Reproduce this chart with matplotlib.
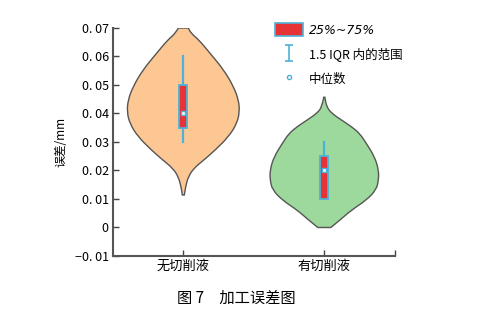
import matplotlib
matplotlib.use('Agg')
import matplotlib.pyplot as plt
from matplotlib.patches import Patch, PathPatch
from matplotlib.lines import Line2D
from matplotlib.path import Path

plt.rcParams['font.family'] = ['Noto Sans CJK SC', 'DejaVu Sans']

# categories
groups = ['无切削液', '有切削液']
positions = [1, 2]

# violin outlines: error level (mm) and half width (x units)
levels_1 = [0.0114, 0.0143, 0.0178, 0.0208, 0.0237, 0.0272, 0.0319, 0.0365,
            0.0406, 0.0447, 0.0494, 0.0553, 0.0611, 0.0658, 0.0681, 0.0700]
widths_1 = [0.007, 0.016, 0.035, 0.075, 0.146, 0.227, 0.322, 0.380,
            0.399, 0.392, 0.357, 0.287, 0.190, 0.111, 0.056, 0.035]
levels_2 = [0.0000, 0.0026, 0.0061, 0.0096, 0.0132, 0.0167, 0.0202, 0.0248,
            0.0295, 0.0330, 0.0354, 0.0377, 0.0401, 0.0424, 0.0457]
widths_2 = [0.046, 0.111, 0.192, 0.298, 0.368, 0.385, 0.385, 0.357,
            0.298, 0.251, 0.192, 0.122, 0.051, 0.016, 0.004]

# box stats
q1 = [0.035, 0.010]
q3 = [0.050, 0.025]
lo = [0.030, 0.010]
hi = [0.060, 0.030]
median = [0.040, 0.020]

yticks = [-0.01, 0, 0.01, 0.02, 0.03, 0.04, 0.05, 0.06, 0.07]
ytick_labels = ['−0. 01', '0', '0. 01', '0. 02', '0. 03', '0. 04', '0. 05', '0. 06', '0. 07']

fills = ['#fdc794', '#9dd89c']
red = '#e83336'
blue = '#4fb0d8'


def smooth_outline(pts):
    # quadratic bezier through midpoints, keeps the ends fixed
    verts = [pts[0]]
    codes = [Path.MOVETO]
    for i in range(1, len(pts) - 1):
        mid = ((pts[i][0] + pts[i + 1][0]) / 2, (pts[i][1] + pts[i + 1][1]) / 2)
        verts += [pts[i], mid]
        codes += [Path.CURVE3, Path.CURVE3]
    verts.append(pts[-1])
    codes.append(Path.LINETO)
    return verts, codes


fig = plt.figure(figsize=(4.78, 3.21), dpi=100)
ax = fig.add_axes([0.236, 0.2025, 0.59, 0.7103])

for pos, lv, wd, fc in zip(positions, [levels_1, levels_2], [widths_1, widths_2], fills):
    right = [(pos + w, y) for w, y in zip(wd, lv)]
    left = [(pos - w, y) for w, y in zip(wd, lv)]
    vr, cr = smooth_outline(right)
    vl, cl = smooth_outline(left[::-1])
    verts = vr + vl + [vr[0]]
    codes = cr + [Path.LINETO] + cl[1:] + [Path.CLOSEPOLY]
    ax.add_patch(PathPatch(Path(verts, codes), facecolor=fc, edgecolor='#555555',
                           lw=1.0, zorder=1))

bw = 0.028
for i, pos in enumerate(positions):
    ax.plot([pos, pos], [lo[i], hi[i]], color=blue, lw=1.6, zorder=3)
    ax.bar(pos, q3[i] - q1[i], bottom=q1[i], width=2 * bw, color=red,
           edgecolor=blue, linewidth=1.3, zorder=4)
    ax.plot(pos, median[i], marker='s', ms=3.2, mfc='white', mec=blue,
            mew=1.0, zorder=5)

ax.set_xlim(0.5, 2.5)
ax.set_ylim(-0.01, 0.07)
ax.set_yticks(yticks)
ax.set_yticklabels(ytick_labels, fontsize=9)
ax.set_xticks([1, 2, 2.5])
ax.set_xticklabels(groups + [''], fontsize=9.5)
ax.tick_params(direction='in', length=4, width=1, color='#444444', pad=3)
for s in ['top', 'right']:
    ax.spines[s].set_visible(False)
for s in ['left', 'bottom']:
    ax.spines[s].set_color('#555555')
    ax.spines[s].set_linewidth(1.5)
ax.set_ylabel('误差/mm', fontsize=8.5, labelpad=5)

ibeam = Path([(-0.5, 1), (0.5, 1), (0, 1), (0, -1), (-0.5, -1), (0.5, -1)],
             [Path.MOVETO, Path.LINETO, Path.MOVETO, Path.LINETO, Path.MOVETO, Path.LINETO])
handles = [Patch(facecolor=red, edgecolor=blue, linewidth=1.2),
           Line2D([], [], ls='none', marker=ibeam, ms=12, mec=blue, mew=1.2),
           Line2D([], [], ls='none', marker='o', ms=3, mfc='white', mec=blue, mew=1.0)]
labels = ['25%~75%', '1.5 IQR 内的范围', '中位数']
leg = fig.legend(handles, labels, loc='upper left', bbox_to_anchor=(0.565, 0.945),
                 frameon=False, fontsize=9, handlelength=2.2, handleheight=1.3,
                 handletextpad=0.5, labelspacing=0.85, borderaxespad=0)
leg.get_texts()[0].set_fontstyle('italic')
leg.get_texts()[0].set_family('DejaVu Sans')

fig.text(0.495, 0.072, '图 7　加工误差图', ha='center', va='center', fontsize=11)

fig.savefig('out.png', dpi=100)
